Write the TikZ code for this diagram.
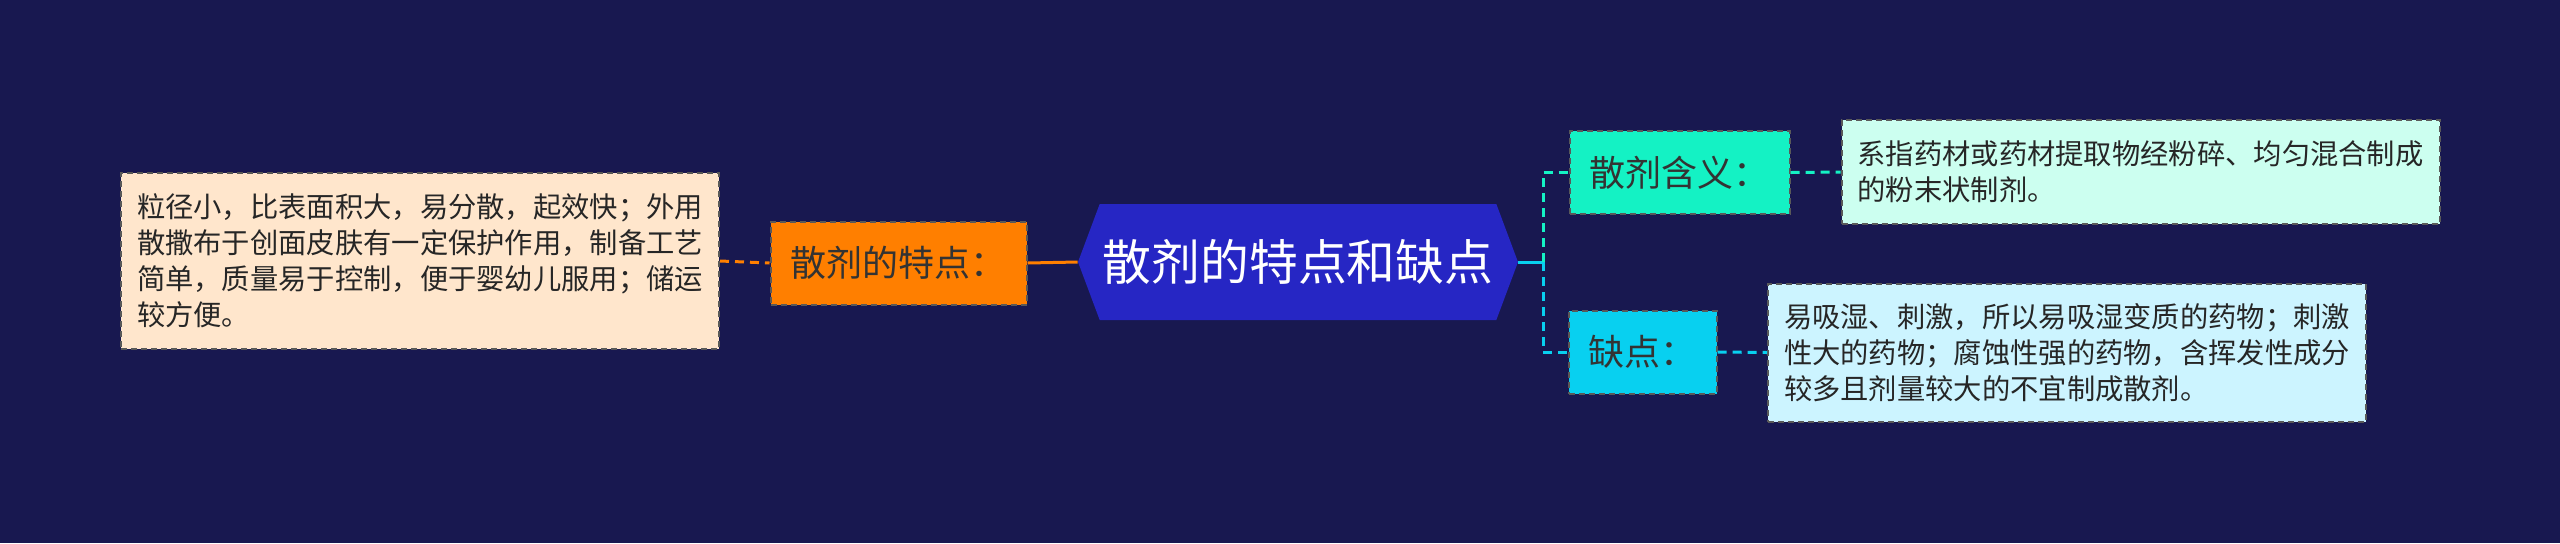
\documentclass[tikz,border=0pt]{standalone}
\usepackage{fontspec}
\setmainfont{Noto Sans CJK SC}
\usetikzlibrary{shapes.symbols}

\definecolor{bgblue}{HTML}{181850}
\definecolor{rootblue}{HTML}{2626C4}
\definecolor{tagorange}{HTML}{FF7F00}
\definecolor{tagteal}{HTML}{14F2C4}
\definecolor{tagcyan}{HTML}{08D0F0}
\definecolor{peach}{HTML}{FFE6CC}
\definecolor{mint}{HTML}{CCFFF0}
\definecolor{icecyan}{HTML}{CCF4FF}

\begin{document}
\begin{tikzpicture}[x=0.5pt,y=-0.5pt,
    txtbox/.style = {
      draw = black!65,
      dash pattern = on 3pt off 2pt,
      line width = 1pt,
      inner xsep = 8pt,
      inner ysep = 0pt,
      align = left,
      text = black!85,
      font = \fontsize{14.15pt}{18pt}\selectfont
    },
    tag/.style = {
      draw = black!65,
      dash pattern = on 3pt off 2pt,
      line width = 1pt,
      inner xsep = 10pt,
      minimum height = 41.5pt,
      text = black!80,
      font = \fontsize{18pt}{22pt}\selectfont
    },
    link/.style = {
      line width = 1.5pt,
      dash pattern = on 4.5pt off 3pt
    }
  ]
  \fill[bgblue] (0,0) rectangle (2560,543);
  \useasboundingbox (0,0) rectangle (2560,543);

  \node[txtbox, fill=peach, minimum width=298pt, minimum height=88pt] (feat) at (420,261)
    {粒径小，比表面积大，易分散，起效快；外用\\散撒布于创面皮肤有一定保护作用，制备工艺\\简单，质量易于控制，便于婴幼儿服用；储运\\较方便。};
  \node[tag, fill=tagorange] (feattag) at (898.5,263) {散剂的特点：};

  \node[signal, signal to=west and east, signal pointer angle=139,
    fill=rootblue, text=white, inner sep=0pt,
    minimum width=220pt, minimum height=58pt,
    font=\fontsize{24.4pt}{28pt}\selectfont] (root) at (1298,262) {散剂的特点和缺点};

  \node[tag, fill=tagteal] (deftag) at (1679.5,172.5) {散剂含义：};
  \node[txtbox, fill=mint, minimum width=298.5pt, minimum height=52pt] (def) at (2140.5,172)
    {系指药材或药材提取物经粉碎、均匀混合制成\\的粉末状制剂。};

  \node[tag, fill=tagcyan] (weaktag) at (1642.5,352) {缺点：};
  \node[txtbox, fill=icecyan, minimum width=298.5pt, minimum height=69pt] (weak) at (2067,352.5)
    {易吸湿、刺激，所以易吸湿变质的药物；刺激\\性大的药物；腐蚀性强的药物，含挥发性成分\\较多且剂量较大的不宜制成散剂。};

  % left branch
  \draw[link, tagorange] (feat.east) -- (feattag.west);
  \draw[tagorange, line width=1.5pt] (feattag.east) -- (root.west);

  % right branches
  \coordinate (trunk) at (1543,262);
  \draw[tagcyan, line width=1.5pt] (root.east) -- (trunk);
  \draw[link, tagteal] (trunk) |- (deftag.west);
  \draw[link, tagcyan] (trunk) |- (weaktag.west);
  \draw[link, tagteal] (deftag.east) -- (def.west);
  \draw[link, tagcyan] (weaktag.east) -- (weak.west);
\end{tikzpicture}
\end{document}
